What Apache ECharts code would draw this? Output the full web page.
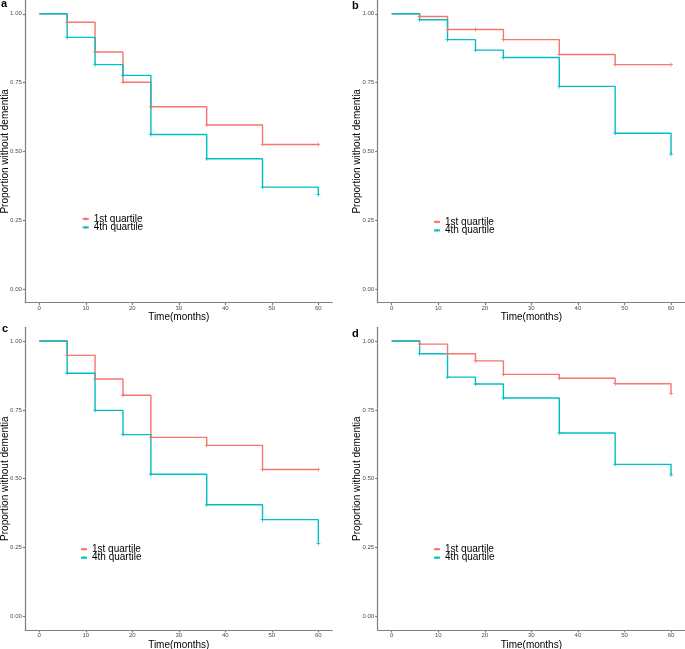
<!DOCTYPE html>
<html>
<head>
<meta charset="utf-8">
<script src="https://cdn.jsdelivr.net/npm/echarts@6/dist/echarts.min.js"></script>
<style>html,body{margin:0;padding:0;background:#fff;}#c{width:685px;height:649px;}</style>
</head>
<body>
<div id="c"></div>
<script>
const times = [0, 6, 12, 18, 24, 36, 48, 60];
const groupNames = ['1st quartile', '4th quartile'];
const panelLabels = ['a', 'b', 'c', 'd'];
const xTicks = [0, 10, 20, 30, 40, 50, 60];
const yTicks = [0, 0.25, 0.5, 0.75, 1];

const aQ1 = [1, 0.969, 0.861, 0.751, 0.662, 0.596, 0.525, 0.525];
const aQ4 = [1, 0.914, 0.815, 0.776, 0.561, 0.473, 0.370, 0.343];
const bQ1 = [1, 0.990, 0.943, 0.943, 0.906, 0.852, 0.815, 0.815];
const bQ4 = [1, 0.978, 0.906, 0.868, 0.841, 0.736, 0.566, 0.490];
const cQ1 = [1, 0.948, 0.862, 0.803, 0.650, 0.621, 0.533, 0.533];
const cQ4 = [1, 0.883, 0.748, 0.660, 0.516, 0.405, 0.351, 0.264];
const dQ1 = [1, 0.989, 0.954, 0.928, 0.879, 0.865, 0.845, 0.809];
const dQ4 = [1, 0.954, 0.869, 0.844, 0.793, 0.666, 0.552, 0.514];

const panels = [[aQ1, aQ4], [bQ1, bQ4], [cQ1, cQ4], [dQ1, dQ4]];
const colors = ['#F8766D', '#00BFC4'];
const FONT = '"Liberation Sans", Arial, sans-serif';
const plus = 'path://M4,0H6V4H10V6H6V10H4V6H0V4H4Z';

const grids = [
  {left: 25.3, top: 0, width: 307, height: 302.7},
  {left: 377.7, top: 0, width: 307.3, height: 302.7},
  {left: 25.3, top: 327.3, width: 307, height: 302.7},
  {left: 377.7, top: 327.3, width: 307.3, height: 302.7}
].map(g => Object.assign(g, {containLabel: false, outerBoundsMode: 'none'}));
const legendPos = [
  {left: 81.7, top: 213.9},
  {left: 433, top: 216.9},
  {left: 80, top: 544.2},
  {left: 433, top: 544.2}
];
const labelPos = [[1, 3.5], [352, 6], [2, 329], [352, 334]];

const axisLineStyle = {color: '#7f7f7f', width: 1.2};
const xAxes = [], yAxes = [], series = [], legends = [], graphics = [];

grids.forEach((g, i) => {
  xAxes.push({
    type: 'value', gridIndex: i, min: -3, max: 63,
    splitLine: {show: false},
    axisLine: {show: true, onZero: false, lineStyle: axisLineStyle},
    axisTick: {show: true, length: 2.5, lineStyle: axisLineStyle, customValues: xTicks},
    axisLabel: {fontSize: 6, color: '#4d4d4d', margin: 2.5, fontFamily: FONT, customValues: xTicks},
    name: 'Time(months)', nameLocation: 'middle', nameGap: 9.8, nameMoveOverlap: false,
    nameTextStyle: {fontSize: 10, color: '#000', fontFamily: FONT}
  });
  yAxes.push({
    type: 'value', gridIndex: i, min: -0.05, max: 1.05,
    splitLine: {show: false},
    axisLine: {show: true, onZero: false, lineStyle: axisLineStyle},
    axisTick: {show: true, length: 2.5, lineStyle: axisLineStyle, customValues: yTicks},
    axisLabel: {fontSize: 6, color: '#4d4d4d', margin: 3.5, fontFamily: FONT, customValues: yTicks,
      formatter: v => v.toFixed(2)},
    name: 'Proportion without dementia', nameLocation: 'middle', nameGap: 15.5, nameMoveOverlap: false,
    nameTextStyle: {fontSize: 10, color: '#000', fontFamily: FONT}
  });
  panels[i].forEach((vals, k) => {
    series.push({
      type: 'line', name: groupNames[k], xAxisIndex: i, yAxisIndex: i,
      step: 'end',
      data: times.map((t, j) => j === 0 ? {value: [t, vals[j]], symbol: 'none'} : [t, vals[j]]),
      symbol: plus, symbolSize: 4, showSymbol: true,
      lineStyle: {color: colors[k], width: 1.4},
      itemStyle: {color: colors[k]},
      emphasis: {disabled: true}, silent: true, animation: false
    });
  });
  legends.push({
    data: groupNames, orient: 'vertical', left: legendPos[i].left, top: legendPos[i].top,
    itemWidth: 6, itemHeight: 4, itemGap: -1.5, padding: 0, selectedMode: false,
    textStyle: {fontSize: 10, lineHeight: 9, color: '#000', fontFamily: FONT}
  });
  graphics.push({
    type: 'text', x: labelPos[i][0], y: labelPos[i][1],
    style: {text: panelLabels[i], fontSize: 11, fontWeight: 'bold', fill: '#000',
      fontFamily: FONT, verticalAlign: 'middle', align: 'left'}
  });
});

const chart = echarts.init(document.getElementById('c'), null, {renderer: 'canvas'});
chart.setOption({
  animation: false,
  color: colors,
  grid: grids,
  xAxis: xAxes,
  yAxis: yAxes,
  legend: legends,
  series: series,
  graphic: graphics
});
</script>
</body>
</html>
